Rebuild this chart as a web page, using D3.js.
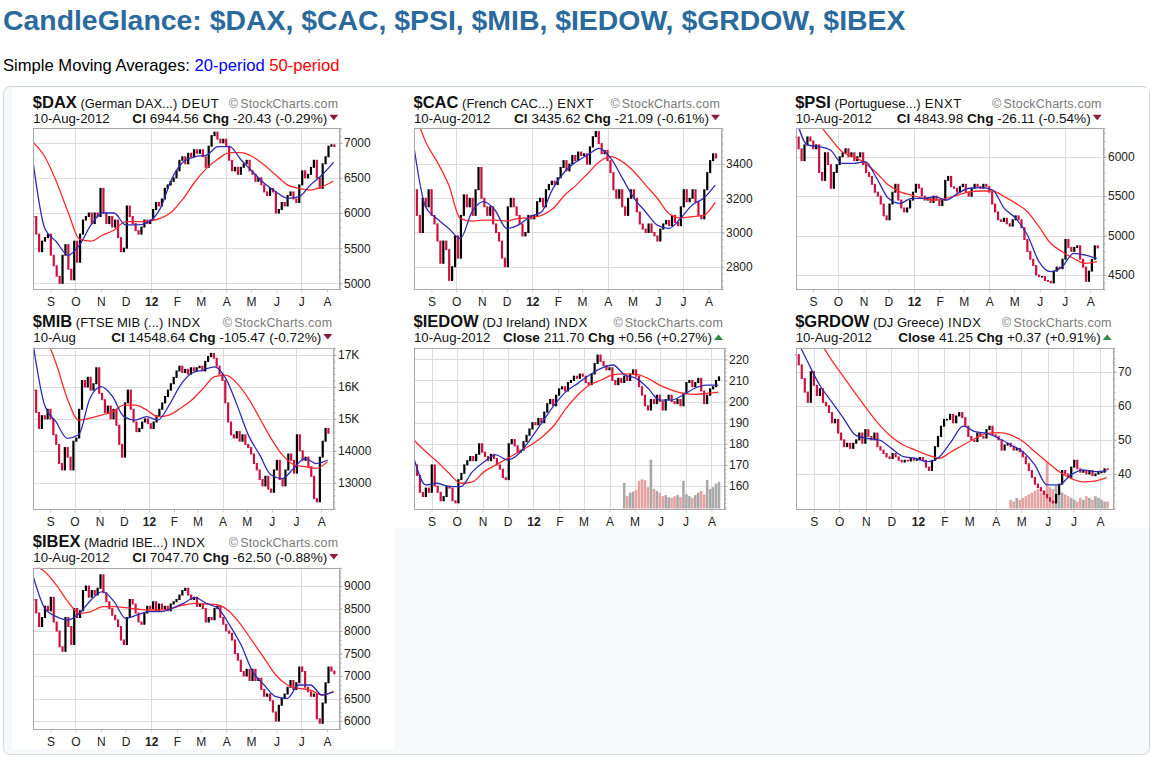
<!DOCTYPE html>
<html><head><meta charset="utf-8">
<script src="https://cdn.jsdelivr.net/npm/d3@7"></script>
<style>
body{margin:0;background:#fff;}
svg{display:block;font-family:"Liberation Sans",Arial,Helvetica,sans-serif;}
</style></head>
<body><svg id="c" width="1151" height="757"></svg>
<script>
// ---------------- DATA ----------------
const monthLabels = ["S","O","N","D","12","F","M","A","M","J","J","A"];

const symbols   = ["$DAX","$CAC","$PSI","$MIB","$IEDOW","$GRDOW","$IBEX"];
const names     = ["(German DAX...)","(French CAC...)","(Portuguese...)","(FTSE MIB (...)","(DJ Ireland)","(DJ Greece)","(Madrid IBE...)"];
const exchanges = ["DEUT","ENXT","ENXT","INDX","INDX","INDX","INDX"];
const dateLabels= ["10-Aug-2012","10-Aug-2012","10-Aug-2012","10-Aug","10-Aug-2012","10-Aug-2012","10-Aug-2012"];
const closeWords= ["Cl","Cl","Cl","Cl","Close","Close","Cl"];
const lastCloses= ["6944.56","3435.62","4843.98","14548.64","211.70","41.25","7047.70"];
const changes   = ["-20.43 (-0.29%)","-21.09 (-0.61%)","-26.11 (-0.54%)","-105.47 (-0.72%)","+0.56 (+0.27%)","+0.37 (+0.91%)","-62.50 (-0.88%)"];

const daxTicks = [5000,5500,6000,6500,7000];
const cacTicks = [2800,3000,3200,3400];
const psiTicks = [4500,5000,5500,6000];
const mibTicks = [13000,14000,15000,16000,17000];
const mibTickLabels = ["13000","14000","15K","16K","17K"];
const iedowTicks = [160,170,180,190,200,210,220];
const grdowTicks = [40,50,60,70];
const ibexTicks = [6000,6500,7000,7500,8000,8500,9000];

const daxDomain = [4915,7205], cacDomain=[2668,3609], psiDomain=[4319,6360], mibDomain=[12185,17229],
      iedowDomain=[149.25,225.5], grdowDomain=[29.8,77.04], ibexDomain=[5829,9407];

// closes, about 2.5 trading days apart, 11-Aug-2011 .. 10-Aug-2012
const daxClose = [
 5950,5700,5450,5600,5650,5700,
 5400,5250,5100,5000,5400,5550,5200,5050,5600,
 5300,5700,5900,5950,6000,5850,6000,5950,6350,
 6000,5850,5950,5800,5900,5650,5450,5500,
 6100,5950,5850,5750,5700,5800,5900,5850,5900,
 6050,6150,6100,6200,6350,6400,6450,6500,6600,
 6750,6800,6700,6850,6800,6900,6850,6900,
 6800,6650,6950,7100,7150,7050,7000,7050,6950,
 6750,6600,6650,6550,6650,6700,6750,6600,
 6550,6450,6500,6400,6300,6250,6350,6300,6000,
 6050,6150,6100,6250,6300,6200,6150,6400,
 6600,6500,6550,6650,6750,6500,6350,6700,6800,
 6950,6970,6945];
const daxSma20 = [6706,5780,5592,5400,5545,5830,6000,6000,5830,5830,5875,6066,6490,6730,6800,6825,6943,6943,6754,6588,6422,6303,6209,6230,6400,6540,6720];
const daxSma50 = [7005,6800,6445,6019,5630,5600,5687,5758,5877,5877,5886,5924,6019,6208,6445,6635,6768,6858,6858,6800,6682,6540,6400,6351,6327,6375,6455];

const cacClose = [
 3250,3100,3000,3200,3150,3250,
 3100,3050,2950,2820,2950,2900,2720,2800,2980,
 2850,3100,3220,3150,3200,3100,3250,3380,3200,
 3150,3100,3150,3050,3000,2950,2850,2800,
 3150,3200,3150,3100,3050,2980,3000,3100,3080,
 3100,3180,3200,3150,3250,3280,3300,3280,3320,
 3380,3420,3360,3400,3450,3420,3470,3450,
 3460,3400,3500,3560,3590,3520,3460,3480,3420,
 3350,3250,3200,3250,3150,3100,3200,3250,
 3200,3120,3050,3020,3000,3050,3000,2980,2950,
 3020,3050,3070,3040,3100,3060,3040,3150,
 3250,3180,3200,3250,3180,3100,3080,3250,3350,
 3420,3460,3436];
const cacSma20 = [3500,3150,3080,3024,2965,3120,3180,3130,3024,3043,3092,3120,3258,3355,3413,3453,3492,3433,3316,3200,3120,3043,3024,3082,3160,3200,3277];
const cacSma50 = [3720,3530,3413,3277,3082,3067,3072,3072,3067,3082,3086,3100,3140,3218,3277,3345,3413,3443,3413,3355,3277,3200,3111,3086,3092,3100,3176];

const psiClose = [
 6250,6100,5950,6150,6250,6200,
 6100,6150,5800,5700,6050,5900,5600,5800,5900,
 6000,6050,6100,6000,6050,5950,6000,6050,5900,
 5800,5750,5650,5550,5500,5400,5250,5200,
 5400,5550,5650,5450,5350,5300,5350,5450,5550,
 5650,5600,5500,5450,5480,5420,5500,5450,5380,
 5450,5700,5750,5620,5600,5550,5620,5650,
 5550,5500,5600,5650,5620,5600,5650,5620,5550,
 5400,5300,5200,5180,5220,5150,5120,5200,
 5250,5200,5100,4950,4800,4700,4620,4500,4480,
 4480,4430,4420,4400,4550,4600,4580,4700,
 4950,4850,4800,4850,4870,4700,4600,4420,4550,
 4700,4870,4844];
const psiSma20 = [6500,6150,6127,6085,5915,5915,5936,5725,5472,5408,5472,5472,5493,5451,5535,5600,5607,5577,5345,5218,5007,4669,4542,4606,4775,4753,4710];
const psiSma50 = [6800,6620,6420,6232,6063,6000,5915,5790,5640,5555,5514,5472,5451,5472,5514,5555,5565,5565,5493,5408,5303,5113,4902,4796,4710,4648,4669];

const mibClose = [
 15900,15200,14700,15100,15000,15300,
 15000,14500,14200,13600,13400,14100,13800,13400,14300,
 14400,15300,16200,16000,16300,15900,16100,16600,15800,
 15600,15200,15400,15000,15300,14800,14200,13800,
 15500,15900,15300,14900,14600,14700,14900,15000,14850,
 14700,14900,15100,15300,15500,15700,15900,16100,16300,
 16500,16650,16450,16550,16400,16600,16500,16600,
 16650,16500,16800,16950,17050,16900,16650,16400,16200,
 15500,14900,14500,14400,14600,14300,14500,14200,
 14100,13900,13600,13400,13100,12900,13200,12800,12700,
 13400,13700,13100,12900,13400,13900,13700,13300,
 14500,14000,13700,13800,13500,13200,12500,12400,13800,
 14300,14700,14549];
const mibSma20 = [17300,15430,14910,14390,14500,15640,16010,15700,15070,14960,15070,14960,15430,16060,16430,16530,16630,16270,15430,14490,13870,13240,13130,13450,13760,13600,13710];
const mibSma50 = [18000,17600,16750,15640,14960,15020,15120,15220,15430,15430,15280,15070,15120,15330,15590,15950,16320,16370,16110,15640,15020,14390,13870,13570,13500,13450,13660];

const iedowClose = [
 170,165,157,155,159,157,
 170,160,157,153,155,160,159,153,152,
 163,166,170,172,174,172,175,180,176,
 174,172,175,173,170,168,164,163,
 180,182,179,176,177,181,184,187,190,
 189,192,190,195,199,201,198,203,206,
 207,205,209,210,212,211,213,212,
 209,208,213,218,222,219,217,215,216,
 210,208,211,209,212,210,213,215,
 212,207,203,198,196,201,199,203,200,
 196,201,203,200,199,201,198,204,
 209,210,207,209,211,205,199,203,206,
 207,210,211.7];
const iedowSma20 = [173,160.5,161.3,159.7,159.7,166.8,171.5,174.7,172.3,175.5,182.6,190.5,198.4,204.7,208.6,212.6,215.7,217.3,212.6,211,206.3,200.7,200.7,203.1,206.3,207.8,207.8];
const iedowSma50 = [181.8,176.3,171.5,166,161.3,162,166.8,170,173.1,176.3,179.4,183.4,188.9,196.8,203.1,207.8,210.2,212.6,213.1,212.9,211,207.8,205.5,203.9,203.4,203.9,204.4];
const iedowVolStart = 71;
const iedowVolume = [72,35,45,48,52,78,82,80,60,137,55,50,45,35,38,32,30,35,38,33,78,40,35,30,38,45,50,40,80,55,60,70,75];

const grdowClose = [
 75,72,68,64,61,70,
 66,63,65,61,60,58,55,56,52,
 50,48,49,47.5,49,50,52,49,53,
 51,50,52,48,47,46,45,44.5,
 46,45,44,43.5,44,43.8,44.5,44,44.2,
 44.8,44,42,41,44,48,51,54,56,
 56,57.5,55,57,58,56.5,54,51,
 50,49.5,52,51,50.5,53,54,51.5,51,
 50,47,48.5,49,48,47,47.5,46.5,
 45,43,41,39,37,36,35,34,33,
 32,31.5,34,37,41,40,39,42,
 44,41.5,40.5,41,40,41,39.5,40,40.5,
 40.5,41.5,41.25];
const grdowSma20 = [80,72.9,66.1,61.2,56.3,51.4,50.4,49.9,47.5,45.1,44.6,43.6,45,49.5,54,52.4,51.9,50.4,48.5,46.5,42.6,36.8,36.8,39.7,41.2,40.7,40.9];
const grdowSma50 = [88,84,79,73.4,68.5,63.6,58.8,54.4,50.9,48.5,47,45.6,44.6,46.5,48.5,50.4,51.9,52.1,51.4,49.5,46.5,43.6,40.7,38.7,37.7,37.9,38.9];
const grdowVolStart = 71;
const grdowVolume = [25,20,30,25,30,35,40,45,50,55,45,50,130,60,55,65,50,45,40,35,30,25,20,30,25,35,30,25,35,30,25,20,20];

const ibexClose = [
 8700,8400,8100,8300,8550,8450,
 8750,8200,8000,7650,7550,8300,8100,7700,8500,
 8300,8450,8900,9000,8750,8900,8800,8950,9250,
 8850,8650,8500,8350,8250,8100,7800,7700,
 8300,8700,8600,8400,8200,8150,8400,8550,8500,
 8650,8450,8600,8500,8550,8450,8600,8650,8700,
 8800,8900,8950,8800,8700,8750,8550,8600,
 8500,8200,8300,8250,8500,8550,8300,8150,8000,
 7950,7800,7500,7350,7100,7000,7150,6900,
 7150,6900,6950,6700,6550,6600,6450,6200,6000,
 6350,6500,6600,6750,6900,6700,6850,7200,
 7100,6750,6650,6550,6600,6050,5950,6400,6850,
 7200,7110,7048];
const ibexSma20 = [9207,8504,8319,8245,8393,8689,8874,8652,8281,8356,8430,8430,8504,8615,8741,8615,8504,8133,7689,7096,6800,6541,6504,6800,6800,6578,6652];
const ibexSma50 = [9467,9318,9022,8652,8393,8430,8541,8541,8519,8489,8467,8467,8504,8578,8615,8600,8578,8430,8133,7763,7393,7022,6800,6726,6689,6578,6652];

// ---------------- BUILD ----------------
const charts = [
 {close:daxClose, s20:daxSma20, s50:daxSma50, ticks:daxTicks, labels:daxTicks.map(String), dom:daxDomain},
 {close:cacClose, s20:cacSma20, s50:cacSma50, ticks:cacTicks, labels:cacTicks.map(String), dom:cacDomain},
 {close:psiClose, s20:psiSma20, s50:psiSma50, ticks:psiTicks, labels:psiTicks.map(String), dom:psiDomain},
 {close:mibClose, s20:mibSma20, s50:mibSma50, ticks:mibTicks, labels:mibTickLabels, dom:mibDomain},
 {close:iedowClose, s20:iedowSma20, s50:iedowSma50, ticks:iedowTicks, labels:iedowTicks.map(String), dom:iedowDomain, vol:iedowVolume, volStart:iedowVolStart, monthly:true},
 {close:grdowClose, s20:grdowSma20, s50:grdowSma50, ticks:grdowTicks, labels:grdowTicks.map(String), dom:grdowDomain, vol:grdowVolume, volStart:grdowVolStart, monthly:true},
 {close:ibexClose, s20:ibexSma20, s50:ibexSma50, ticks:ibexTicks, labels:ibexTicks.map(String), dom:ibexDomain}
];
const layout = [
 {x:33.3,y:128.3,w:306},{x:414,y:128.3,w:307},{x:795.7,y:128.3,w:307},
 {x:33.3,y:347.7,w:300},{x:414,y:347.7,w:310},{x:795.7,y:347.7,w:317},
 {x:33.3,y:567.7,w:306}
];
const PH = 161;
const domStart = new Date(2011,7,11), domEnd = new Date(2012,7,16);
const firstBar = new Date(2011,7,11), lastBar = new Date(2012,7,10), lastSma = new Date(2012,7,9);
const dateAt = (i,n,end)=> new Date(firstBar.getTime() + i*(end-firstBar)/(n-1));

const svg = d3.select("#c");
svg.append("rect").attr("width",1151).attr("height",757).attr("fill","#fff");

svg.append("text").attr("x",3).attr("y",29.5).attr("font-size",28.4).attr("font-weight","bold")
  .attr("fill","#2a6a9c").text("CandleGlance: " + symbols.join(", "));
const sub = svg.append("text").attr("x",3).attr("y",71).attr("font-size",16.6);
sub.append("tspan").attr("fill","#000").text("Simple Moving Averages: ");
sub.append("tspan").attr("fill","#0000ff").text("20-period");
sub.append("tspan").attr("fill","#000").text(" ");
sub.append("tspan").attr("fill","#ff0000").text("50-period");

svg.append("rect").attr("x",3.5).attr("y",86.5).attr("width",1146).attr("height",668).attr("rx",7)
  .attr("fill","#f6f8fa").attr("stroke","#cfd3d6");
svg.append("rect").attr("x",12).attr("y",88).attr("width",1137).attr("height",440).attr("fill","#fff");
svg.append("rect").attr("x",12).attr("y",528).attr("width",382).attr("height",221).attr("fill","#fff");

const defs = svg.append("defs");

charts.forEach((c,ci)=>{
  const L = layout[ci], x0=L.x, y0=L.y, w=L.w, h=PH;
  const g = svg.append("g");
  const xs = d3.scaleTime().domain([domStart,domEnd]).range([x0,x0+w]);
  const ys = d3.scaleLinear().domain(c.dom).range([y0+h,y0]);

  defs.append("clipPath").attr("id","clip"+ci).append("rect")
    .attr("x",x0).attr("y",y0).attr("width",w).attr("height",h);

  // gridlines
  const grid = g.append("g").attr("stroke","#dcdcdc").attr("stroke-width",1);
  c.ticks.forEach(t=>{
    const yy = Math.round(ys(t))+0.5;
    grid.append("line").attr("x1",x0).attr("x2",x0+w).attr("y1",yy).attr("y2",yy);
  });
  xs.ticks(d3.timeMonth.every(c.monthly?1:3)).forEach(d=>{
    const xx = Math.round(xs(d))+0.5;
    grid.append("line").attr("x1",xx).attr("x2",xx).attr("y1",y0).attr("y2",y0+h);
  });

  const plot = g.append("g").attr("clip-path","url(#clip"+ci+")");
  const n = c.close.length;
  const bars = c.close.map((v,i)=>({d:dateAt(i,n,lastBar), o: i? c.close[i-1] : v, c:v}));

  // volume
  if(c.vol){
    const yv = d3.scaleLinear().domain([0,450]).range([y0+h,y0]);
    plot.append("g").selectAll("rect").data(c.vol).join("rect")
      .attr("x",(v,k)=>xs(bars[c.volStart+k].d)-1.3).attr("width",2.6)
      .attr("y",v=>yv(v)).attr("height",v=>yv(0)-yv(v))
      .attr("fill",(v,k)=> bars[c.volStart+k].c < bars[c.volStart+k].o ? "#e6a3a3" : "#a9a9a9");
  }

  // candles
  plot.append("g").selectAll("rect").data(bars).join("rect")
    .attr("x",b=>xs(b.d)-1.1).attr("width",2.2)
    .attr("y",b=>ys(Math.max(b.o,b.c))-0.5)
    .attr("height",b=>Math.max(1.5, Math.abs(ys(b.o)-ys(b.c))+1))
    .attr("fill",b=> b.c < b.o ? "#cc1040" : "#000");

  // moving averages
  const line = d3.line().x(p=>xs(p.d)).y(p=>ys(p.v)).curve(d3.curveMonotoneX);
  const toPts = arr => arr.map((v,i)=>({d:dateAt(i,arr.length,lastSma), v}));
  plot.append("path").attr("d",line(toPts(c.s50))).attr("fill","none").attr("stroke","#ff2a2a").attr("stroke-width",1.3);
  plot.append("path").attr("d",line(toPts(c.s20))).attr("fill","none").attr("stroke","#2d2db4").attr("stroke-width",1.3);

  // frame
  g.append("rect").attr("x",Math.round(x0)+0.5).attr("y",Math.round(y0)+0.5).attr("width",Math.round(w)).attr("height",h)
    .attr("fill","none").attr("stroke","#a8a8a8");

  // right axis (minor ticks + labels)
  const step = c.ticks[1]-c.ticks[0];
  const minor = d3.range(Math.ceil(c.dom[0]/(step/5))*(step/5), c.dom[1], step/5);
  const ax0 = g.append("g").attr("transform",`translate(${Math.round(x0+w)+0.5},0)`)
    .call(d3.axisRight(ys).tickValues(minor).tickSize(2).tickFormat(""));
  ax0.select(".domain").attr("stroke","#a8a8a8");
  ax0.selectAll(".tick line").attr("stroke","#b0b0b0");
  const ax = g.append("g").attr("transform",`translate(${Math.round(x0+w)+0.5},0)`)
    .call(d3.axisRight(ys).tickValues(c.ticks).tickSize(3).tickPadding(1.5).tickFormat((d,i)=>c.labels[i]));
  ax.select(".domain").remove();
  ax.selectAll(".tick line").attr("stroke","#a8a8a8");
  ax.selectAll("text").attr("font-size",12).attr("fill","#222").attr("font-family",'"Liberation Sans",Arial,sans-serif');

  // bottom axis (months)
  const bx = g.append("g").attr("transform",`translate(0,${Math.round(y0+h)+0.5})`)
    .call(d3.axisBottom(xs).ticks(d3.timeMonth.every(1)).tickSize(3).tickPadding(4.5).tickFormat((d,i)=>monthLabels[i]));
  bx.select(".domain").remove();
  bx.selectAll(".tick line").attr("stroke","#c8c8c8");
  bx.selectAll("text").attr("font-size",12).attr("fill","#222").attr("font-family",'"Liberation Sans",Arial,sans-serif')
    .attr("font-weight",(d,i)=> monthLabels[i]==="12" ? "bold" : "normal");

  // header line 1
  const h1 = g.append("text").attr("x",x0-0.5).attr("y",y0-20.6).attr("fill","#111");
  h1.append("tspan").attr("font-size",16.5).attr("font-weight","bold").text(symbols[ci]);
  h1.append("tspan").attr("font-size",13).text(" " + names[ci]);
  h1.append("tspan").attr("font-size",13).attr("letter-spacing",0.6).text(" " + exchanges[ci]);
  const wm = g.append("text").attr("x",x0+w-1).attr("y",y0-20.6).attr("text-anchor","end").attr("font-size",12.5)
    .attr("fill","#7a7a7a").attr("letter-spacing",0.2);
  wm.append("tspan").text("\u00A9");
  wm.append("tspan").attr("dx",2).text("StockCharts.com");

  // header line 2
  g.append("text").attr("x",x0).attr("y",y0-5.6).attr("font-size",13.2).attr("fill","#111").text(dateLabels[ci]);
  const h2 = g.append("text").attr("x",x0+w-12).attr("y",y0-5.6).attr("text-anchor","end").attr("font-size",13.6).attr("fill","#111");
  h2.append("tspan").attr("font-weight","bold").text(closeWords[ci]);
  h2.append("tspan").text(" " + lastCloses[ci] + "  ");
  h2.append("tspan").attr("font-weight","bold").text("Chg");
  h2.append("tspan").text(" " + changes[ci]);
  const up = changes[ci].startsWith("+");
  const cx = x0+w-5.5, by = y0-5.6;
  g.append("path").attr("d", up
      ? `M${cx-4.5},${by-2}L${cx+4.5},${by-2}L${cx},${by-7.5}Z`
      : `M${cx-4.5},${by-8}L${cx+4.5},${by-8}L${cx},${by-2.5}Z`)
    .attr("fill", up ? "#2e8b3e" : "#8e1b3e");
});
</script>
</body></html>
